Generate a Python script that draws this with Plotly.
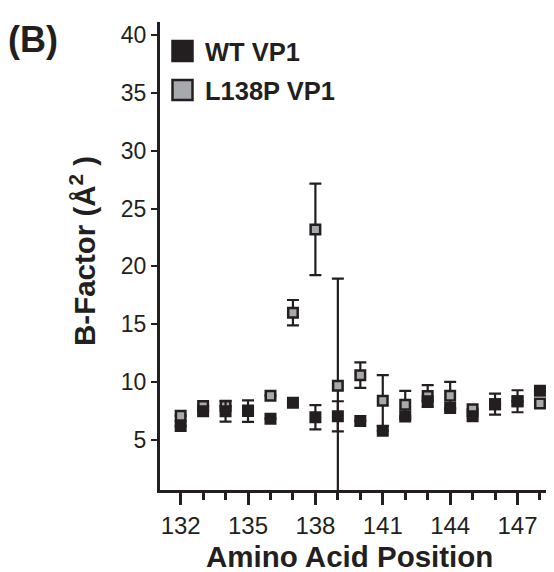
import plotly.graph_objects as go

positions = list(range(132, 149))
wt_values = [6.2, 7.48, 7.48, 7.5, 6.84, 8.22, 6.96, 7.05, 6.65, 5.8, 7.04, 8.34, 7.76, 7.05, 8.09, 8.34, 9.25]
wt_errors = [0, 0, 0.9, 0.93, 0, 0, 1.05, 1.3, 0, 0, 0, 0, 0, 0, 0, 0, 0]
mut_values = [7.1, 7.93, 7.93, 7.55, 8.83, 16.0, 23.2, 9.69, 10.6, 8.4, 8.05, 8.8, 8.83, 7.65, 8.1, 8.35, 8.15]
mut_errors = [0, 0, 0, 0, 0, 1.1, 3.96, 9.25, 1.1, 2.2, 1.2, 0.95, 1.2, 0, 0.9, 0.95, 0]
series_names = ["WT VP1", "L138P VP1"]
y_ticks = [5, 10, 15, 20, 25, 30, 35, 40]
x_ticks = [132, 135, 138, 141, 144, 147]

INK = "#231f20"
GREY = "#a7a9ac"
FONT = "Liberation Sans, Arial, Helvetica, sans-serif"

# page body has an 8px margin; figure is sized to fit the window
OFF = 8
FIG_W, FIG_H = 554 - OFF, 572 - OFF
# plot area in window pixel coordinates
SL, ST, SR, SB = 160, 22, 553, 490
W, H = SR - SL, SB - ST

fig = go.Figure()
# mutant drawn first (WT squares overlap it in the reference)
fig.add_trace(go.Scatter(
    x=positions, y=mut_values, mode="markers", name=series_names[1],
    marker=dict(symbol="square", size=9.5, color=GREY, line=dict(color=INK, width=2.5)),
    error_y=dict(type="data", array=mut_errors, visible=True, color=INK, thickness=2.2, width=6),
    showlegend=False,
))
fig.add_trace(go.Scatter(
    x=positions, y=wt_values, mode="markers", name=series_names[0],
    marker=dict(symbol="square", size=9.5, color=INK, line=dict(color=INK, width=2.5)),
    error_y=dict(type="data", array=wt_errors, visible=True, color=INK, thickness=2.2, width=6),
    showlegend=False,
))


def px(x):
    return (x - SL) / W


def py(y):
    return (SB - y) / H


shapes = []
annotations = []
# manual legend
for i, (name, fill) in enumerate(zip(series_names, [INK, GREY])):
    cy = [51, 90][i]
    shapes.append(dict(type="rect", xref="paper", yref="paper",
                       x0=px(172.5), x1=px(192.5), y0=py(cy + 10), y1=py(cy - 10),
                       fillcolor=fill, line=dict(color=INK, width=2.5)))
    annotations.append(dict(text=f"<b>{name}</b>", xref="paper", yref="paper",
                            x=px(203), y=py(cy + 1), xanchor="left", yanchor="middle",
                            showarrow=False, font=dict(size=25.5, color=INK, family=FONT)))

annotations.append(dict(text="<b>(B)</b>", xref="paper", yref="paper",
                        x=px(6), y=py(40), xanchor="left", yanchor="middle",
                        showarrow=False, font=dict(size=36, color=INK, family=FONT)))
annotations.append(dict(text="<b>B-Factor (Å<sup>2</sup>&nbsp;)</b>", xref="paper", yref="paper",
                        x=px(82), y=py(251), xanchor="center", yanchor="middle", textangle=-90,
                        showarrow=False, font=dict(size=29.5, color=INK, family=FONT)))
annotations.append(dict(text="<b>Amino Acid Position</b>", xref="paper", yref="paper",
                        x=px(349), y=py(556), xanchor="center", yanchor="middle",
                        showarrow=False, font=dict(size=29.5, color=INK, family=FONT)))

fig.update_layout(
    width=FIG_W, height=FIG_H,
    margin=dict(l=SL - OFF, r=FIG_W - (SR - OFF), t=ST - OFF, b=FIG_H - (SB - OFF), pad=0),
    paper_bgcolor="white", plot_bgcolor="white",
    font=dict(family=FONT, color=INK, size=24),
    shapes=shapes, annotations=annotations,
    xaxis=dict(range=[131.08, 148.58], tickmode="array", tickvals=x_ticks,
               ticktext=[str(v) for v in x_ticks],
               showline=True, linecolor=INK, linewidth=3, ticks="outside", ticklen=12,
               tickwidth=2.5, tickcolor=INK, showgrid=False, zeroline=False,
               tickfont=dict(size=24, color=INK, family=FONT),
               minor=dict(dtick=1, tick0=132, ticks="outside", ticklen=7, tickwidth=2.5,
                          tickcolor=INK, showgrid=False)),
    yaxis=dict(range=[0.68, 41.12], tickmode="array", tickvals=y_ticks,
               showline=True, linecolor=INK, linewidth=3, ticks="outside", ticklen=6,
               tickwidth=2, tickcolor=INK, showgrid=False, zeroline=False,
               tickfont=dict(size=23, color=INK, family=FONT)),
)

fig.write_html("out.html")
